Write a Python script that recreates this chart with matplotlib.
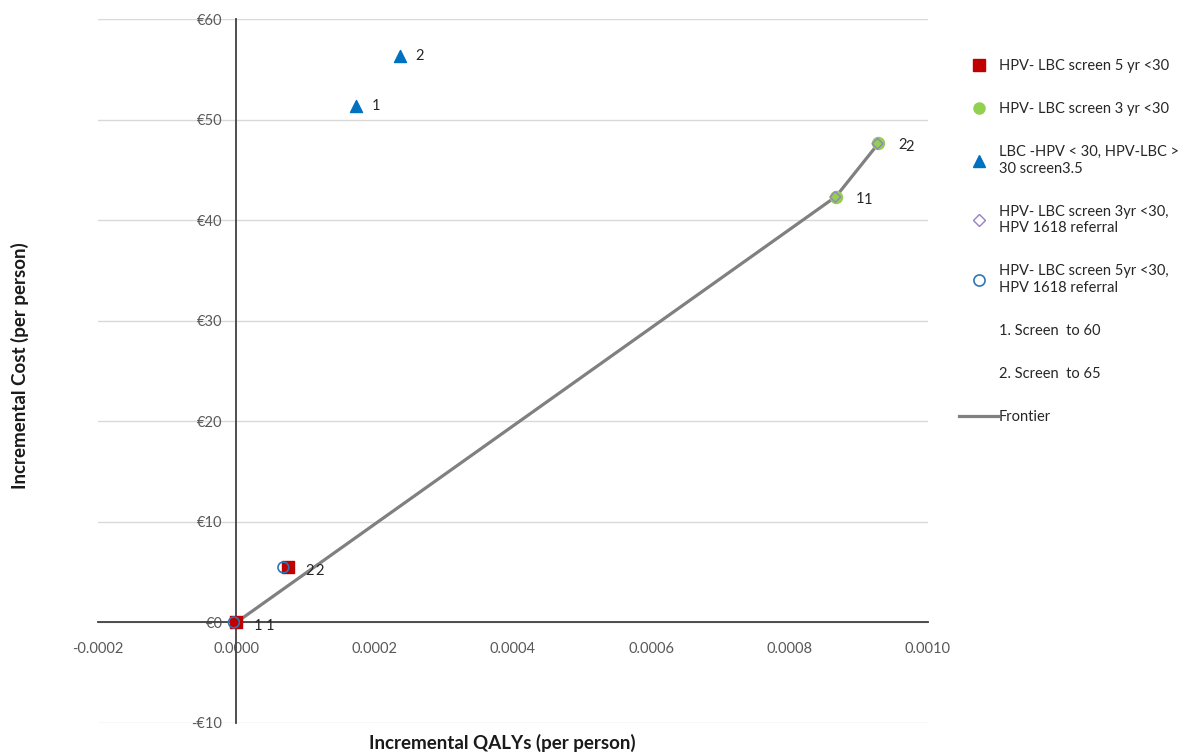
import numpy as np
import matplotlib
matplotlib.use('Agg')
import matplotlib.pyplot as plt
from matplotlib.lines import Line2D
from matplotlib.ticker import FuncFormatter, FixedLocator

plt.rcParams['font.family'] = ['Lato', 'DejaVu Sans']

# Data (incremental QALYs, incremental cost in euro)
sq5_x = [0.0, 0.0000752]          # HPV- LBC screen 5 yr <30
sq5_y = [0.0, 5.47]
c3_x = [0.000867, 0.000928]       # HPV- LBC screen 3 yr <30
c3_y = [42.35, 47.7]
tri_x = [0.000173, 0.000236]      # LBC -HPV < 30, HPV-LBC > 30 screen3.5
tri_y = [51.3, 56.3]
dia_x = [0.000866, 0.000927]      # HPV- LBC screen 3yr <30, HPV 1618 referral
dia_y = [42.3, 47.6]
oc_x = [-0.0000035, 0.000068]     # HPV- LBC screen 5yr <30, HPV 1618 referral
oc_y = [0.0, 5.47]
front_x = [0.0, 0.000867, 0.000928]
front_y = [0.0, 42.35, 47.6]
pt_labels = ['1', '2']

fig = plt.figure(figsize=(11.79, 7.53), dpi=100)
ax = fig.add_axes([98/1179, 1-723/753, 830/1179, 704/753])
ax.set_xlim(-0.0002, 0.0010)
ax.set_ylim(-10, 60)

ax.yaxis.set_major_locator(FixedLocator(np.arange(-10, 61, 10)))
ax.xaxis.set_major_locator(FixedLocator(np.arange(-0.0002, 0.00101, 0.0002)))
ax.yaxis.grid(True, color='#d9d9d9', lw=1)
ax.set_axisbelow(True)

for s in ['top', 'right']:
    ax.spines[s].set_visible(False)
ax.spines['left'].set_position(('data', 0))
ax.spines['bottom'].set_position(('data', 0))
ax.spines['left'].set_color('#404040')
ax.spines['bottom'].set_color('#404040')
ax.spines['left'].set_linewidth(1.3)
ax.spines['bottom'].set_linewidth(1.3)

ax.xaxis.set_major_formatter(FuncFormatter(lambda v, p: '%.4f' % v))
ax.yaxis.set_major_formatter(FuncFormatter(lambda v, p: ('-€%d' % -v) if v < 0 else '€%d' % v))
ax.tick_params(axis='both', length=0, labelsize=10.5, labelcolor='#595959')
ax.tick_params(axis='x', pad=14)
ax.tick_params(axis='y', pad=10)
ax.xaxis.set_minor_locator(FixedLocator([-0.0002, 0.0010]))
ax.tick_params(axis='x', which='minor', direction='inout', length=14, width=1.2, color='#262626')

# frontier
ax.plot(front_x, front_y, color='#808080', lw=2.3, zorder=2, label='Frontier')

ax.scatter(sq5_x, sq5_y, marker='s', s=75, color='#c00000', zorder=3)
ax.scatter(c3_x, c3_y, marker='o', s=75, color='#92d050', zorder=3)
ax.scatter(tri_x, tri_y, marker='^', s=75, color='#0070c0', zorder=3)
ax.scatter(dia_x, dia_y, marker='D', s=30, facecolor='none', edgecolor='#9b7fc8', lw=1, zorder=4)
ax.scatter(oc_x, oc_y, marker='o', s=60, facecolor='none', edgecolor='#2e75b6', lw=1.2, zorder=4)

def label(xs, ys, dx, dy):
    for x, y, t in zip(xs, ys, pt_labels):
        ax.annotate(t, (x, y), xytext=(dx, dy), textcoords='offset pixels',
                    ha='left', va='center', fontsize=10.5, color='#262626')

label(sq5_x, sq5_y, 17, -4)
label(oc_x, oc_y, 32, -4)
label(c3_x, c3_y, 20, -2)
label(dia_x, dia_y, 28, -3)
label(tri_x, tri_y, 16, 0)

fig.text(502/1179, 1-743/753, 'Incremental QALYs (per person)', ha='center', va='center',
         fontsize=13.5, fontweight='bold', color='#1a1a1a')
fig.text(20/1179, 1-366/753, 'Incremental Cost (per person)', ha='center', va='center',
         rotation=90, fontsize=13.5, fontweight='bold', color='#1a1a1a')

handles = [
    Line2D([], [], ls='none', marker='s', ms=8, color='#c00000'),
    Line2D([], [], ls='none', marker='o', ms=8, color='#92d050'),
    Line2D([], [], ls='none', marker='^', ms=8, color='#0070c0'),
    Line2D([], [], ls='none', marker='D', ms=6, mfc='none', mec='#9b7fc8'),
    Line2D([], [], ls='none', marker='o', ms=8, mfc='none', mec='#2e75b6', mew=1.2),
    Line2D([], [], ls='none'),
    Line2D([], [], ls='none'),
    Line2D([], [], color='#808080', lw=2.3),
]
labels = ['HPV- LBC screen 5 yr <30',
          'HPV- LBC screen 3 yr <30',
          'LBC -HPV < 30, HPV-LBC >\n30 screen3.5',
          'HPV- LBC screen 3yr <30,\nHPV 1618 referral',
          'HPV- LBC screen 5yr <30,\nHPV 1618 referral',
          '1. Screen  to 60',
          '2. Screen  to 65',
          'Frontier']
leg = fig.legend(handles, labels, loc='upper left', bbox_to_anchor=(953/1179, 1-53/753),
                 frameon=False, fontsize=10.5, handlelength=2.7, handletextpad=0.05,
                 labelspacing=2.0, borderaxespad=0, labelcolor='#262626')
for t in leg.get_texts():
    t.set_linespacing(1.22)

fig.savefig('out.png', dpi=100)
